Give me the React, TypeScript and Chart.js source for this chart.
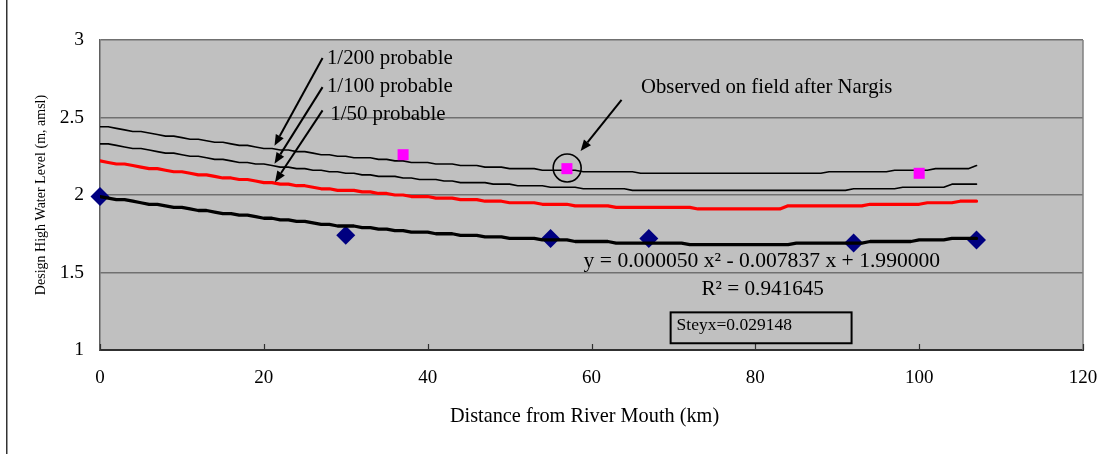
import React, { useEffect, useRef } from "react";
import { Chart, registerables } from "chart.js";

Chart.register(...registerables);

// Distance along the river (km), one station per kilometre
const KM = [
  0, 1, 2, 3, 4, 5, 6, 7, 8, 9, 10, 11, 12, 13, 14, 15, 16, 17, 18, 19,
  20, 21, 22, 23, 24, 25, 26, 27, 28, 29, 30, 31, 32, 33, 34, 35, 36, 37, 38, 39,
  40, 41, 42, 43, 44, 45, 46, 47, 48, 49, 50, 51, 52, 53, 54, 55, 56, 57, 58, 59,
  60, 61, 62, 63, 64, 65, 66, 67, 68, 69, 70, 71, 72, 73, 74, 75, 76, 77, 78, 79,
  80, 81, 82, 83, 84, 85, 86, 87, 88, 89, 90, 91, 92, 93, 94, 95, 96, 97, 98, 99,
  100, 101, 102, 103, 104, 105, 106, 107,
];

// Fitted observed-level curve (m, amsl)
const FIT_LEVEL = [
  1.99, 1.98, 1.97, 1.97, 1.96, 1.95, 1.94, 1.94, 1.93, 1.92,
  1.92, 1.91, 1.90, 1.90, 1.89, 1.88, 1.88, 1.87, 1.87, 1.86,
  1.85, 1.85, 1.84, 1.84, 1.83, 1.83, 1.82, 1.81, 1.81, 1.80,
  1.80, 1.80, 1.79, 1.79, 1.78, 1.78, 1.77, 1.77, 1.76, 1.76,
  1.76, 1.75, 1.75, 1.75, 1.74, 1.74, 1.74, 1.73, 1.73, 1.73,
  1.72, 1.72, 1.72, 1.72, 1.71, 1.71, 1.71, 1.71, 1.70, 1.70,
  1.70, 1.70, 1.70, 1.69, 1.69, 1.69, 1.69, 1.69, 1.69, 1.69,
  1.69, 1.69, 1.68, 1.68, 1.68, 1.68, 1.68, 1.68, 1.68, 1.68,
  1.68, 1.68, 1.68, 1.68, 1.68, 1.69, 1.69, 1.69, 1.69, 1.69,
  1.69, 1.69, 1.69, 1.69, 1.70, 1.70, 1.70, 1.70, 1.70, 1.70,
  1.71, 1.71, 1.71, 1.71, 1.72, 1.72, 1.72, 1.72,
];

// Design high water level, 1/200 probable
const LEVEL_200 = [
  2.44, 2.44, 2.43, 2.42, 2.41, 2.41, 2.40, 2.39, 2.38, 2.38,
  2.37, 2.36, 2.36, 2.35, 2.34, 2.34, 2.33, 2.32, 2.32, 2.31,
  2.30, 2.30, 2.29, 2.29, 2.28, 2.28, 2.27, 2.26, 2.26, 2.25,
  2.25, 2.24, 2.24, 2.24, 2.23, 2.23, 2.22, 2.22, 2.21, 2.21,
  2.21, 2.20, 2.20, 2.20, 2.19, 2.19, 2.19, 2.18, 2.18, 2.18,
  2.17, 2.17, 2.17, 2.17, 2.16, 2.16, 2.16, 2.16, 2.16, 2.15,
  2.15, 2.15, 2.15, 2.15, 2.15, 2.15, 2.14, 2.14, 2.14, 2.14,
  2.14, 2.14, 2.14, 2.14, 2.14, 2.14, 2.14, 2.14, 2.14, 2.14,
  2.14, 2.14, 2.14, 2.14, 2.14, 2.14, 2.14, 2.14, 2.14, 2.15,
  2.15, 2.15, 2.15, 2.15, 2.15, 2.15, 2.15, 2.16, 2.16, 2.16,
  2.16, 2.16, 2.17, 2.17, 2.17, 2.17, 2.17, 2.19,
];

// Design high water level, 1/100 probable
const LEVEL_100 = [
  2.33, 2.33, 2.32, 2.31, 2.30, 2.30, 2.29, 2.28, 2.27, 2.27,
  2.26, 2.25, 2.25, 2.24, 2.23, 2.23, 2.22, 2.21, 2.21, 2.20,
  2.20, 2.19, 2.18, 2.18, 2.17, 2.17, 2.16, 2.16, 2.15, 2.15,
  2.14, 2.14, 2.13, 2.13, 2.12, 2.12, 2.12, 2.11, 2.11, 2.10,
  2.10, 2.10, 2.09, 2.09, 2.08, 2.08, 2.08, 2.08, 2.07, 2.07,
  2.07, 2.06, 2.06, 2.06, 2.06, 2.05, 2.05, 2.05, 2.05, 2.04,
  2.04, 2.04, 2.04, 2.04, 2.04, 2.03, 2.03, 2.03, 2.03, 2.03,
  2.03, 2.03, 2.03, 2.03, 2.03, 2.03, 2.03, 2.03, 2.03, 2.03,
  2.03, 2.03, 2.03, 2.03, 2.03, 2.03, 2.03, 2.03, 2.03, 2.03,
  2.03, 2.03, 2.04, 2.04, 2.04, 2.04, 2.04, 2.04, 2.05, 2.05,
  2.05, 2.05, 2.05, 2.05, 2.07, 2.07, 2.07, 2.07,
];

// Design high water level, 1/50 probable
const LEVEL_50 = [
  2.22, 2.21, 2.20, 2.20, 2.19, 2.18, 2.17, 2.17, 2.16, 2.15,
  2.15, 2.14, 2.13, 2.13, 2.12, 2.11, 2.11, 2.10, 2.10, 2.09,
  2.08, 2.08, 2.07, 2.07, 2.06, 2.06, 2.05, 2.04, 2.04, 2.03,
  2.03, 2.03, 2.02, 2.02, 2.01, 2.01, 2.00, 2.00, 1.99, 1.99,
  1.99, 1.98, 1.98, 1.98, 1.97, 1.97, 1.97, 1.96, 1.96, 1.96,
  1.95, 1.95, 1.95, 1.95, 1.94, 1.94, 1.94, 1.94, 1.93, 1.93,
  1.93, 1.93, 1.93, 1.92, 1.92, 1.92, 1.92, 1.92, 1.92, 1.92,
  1.92, 1.92, 1.92, 1.91, 1.91, 1.91, 1.91, 1.91, 1.91, 1.91,
  1.91, 1.91, 1.91, 1.91, 1.93, 1.93, 1.93, 1.93, 1.93, 1.93,
  1.93, 1.93, 1.93, 1.93, 1.94, 1.94, 1.94, 1.94, 1.94, 1.94,
  1.94, 1.95, 1.95, 1.95, 1.95, 1.96, 1.96, 1.96,
];

// Gauged high water marks
const GAUGE_KM = [0, 30, 55, 67, 92, 107];
const GAUGE_LEVEL = [1.99, 1.74, 1.72, 1.72, 1.69, 1.71];

// Marks observed on field after Nargis
const NARGIS_KM = [37, 57, 100];
const NARGIS_LEVEL = [2.26, 2.17, 2.14];

const X_TICKS = [0, 20, 40, 60, 80, 100, 120];
const Y_TICKS = [1, 1.5, 2, 2.5, 3];

const FONT = "'Liberation Serif', 'Times New Roman', serif";

const pts = (xs: number[], ys: number[]) => xs.map((x, i) => ({ x, y: ys[i] }));

function arrow(ctx: CanvasRenderingContext2D, x1: number, y1: number, x2: number, y2: number) {
  const ang = Math.atan2(y2 - y1, x2 - x1);
  const len = 11;
  const half = 4.5;
  const bx = x2 - Math.cos(ang) * len;
  const by = y2 - Math.sin(ang) * len;
  ctx.beginPath();
  ctx.moveTo(x1, y1);
  ctx.lineTo(bx, by);
  ctx.stroke();
  ctx.beginPath();
  ctx.moveTo(x2, y2);
  ctx.lineTo(bx + Math.sin(ang) * half, by - Math.cos(ang) * half);
  ctx.lineTo(bx - Math.sin(ang) * half, by + Math.cos(ang) * half);
  ctx.closePath();
  ctx.fill();
}

const decorations = {
  id: "decorations",
  beforeDraw(chart: any) {
    const { ctx, chartArea: a } = chart;
    ctx.save();
    ctx.fillStyle = "#ffffff";
    ctx.fillRect(0, 0, chart.width, chart.height);
    ctx.fillStyle = "#c0c0c0";
    ctx.fillRect(a.left, a.top, a.right - a.left, a.bottom - a.top);
    ctx.strokeStyle = "#333333";
    ctx.lineWidth = 1.5;
    ctx.beginPath();
    ctx.moveTo(6.75, 0);
    ctx.lineTo(6.75, chart.height);
    ctx.stroke();
    ctx.restore();
  },
  beforeDatasetsDraw(chart: any) {
    const { ctx, chartArea: a, scales } = chart;
    ctx.save();
    // right edge of the plot area
    ctx.strokeStyle = "#808080";
    ctx.lineWidth = 1.5;
    ctx.beginPath();
    ctx.moveTo(a.right, a.top);
    ctx.lineTo(a.right, a.bottom);
    ctx.stroke();
    // inward tick marks on the distance axis
    ctx.strokeStyle = "#303030";
    ctx.lineWidth = 1.2;
    X_TICKS.forEach((t) => {
      const px = Math.round(scales.x.getPixelForValue(t)) + 0.5;
      ctx.beginPath();
      ctx.moveTo(px, a.bottom);
      ctx.lineTo(px, a.bottom - 6);
      ctx.stroke();
    });
    // distance axis title
    ctx.fillStyle = "#000";
    ctx.textAlign = "center";
    ctx.textBaseline = "middle";
    ctx.font = `20.3px ${FONT}`;
    ctx.fillText("Distance from River Mouth (km)", scales.x.getPixelForValue(59.15), 417);
    ctx.restore();
  },
  afterDatasetsDraw(chart: any) {
    const { ctx, scales } = chart;
    const X = (v: number) => scales.x.getPixelForValue(v);
    const Y = (v: number) => scales.y.getPixelForValue(v);
    ctx.save();
    ctx.fillStyle = "#000";
    ctx.strokeStyle = "#000";
    ctx.textBaseline = "middle";
    ctx.textAlign = "left";
    ctx.font = `20.9px ${FONT}`;
    ctx.fillText("1/200 probable", X(27.7), Y(2.879));
    ctx.fillText("1/100 probable", X(27.7), Y(2.697));
    ctx.fillText("1/50 probable", X(28.1), Y(2.52));
    ctx.font = `20.7px ${FONT}`;
    ctx.fillText("Observed on field after Nargis", X(66.05), Y(2.696));

    ctx.lineWidth = 2;
    arrow(ctx, X(27.17), Y(2.884), X(21.3), Y(2.318));
    arrow(ctx, X(27.17), Y(2.696), X(21.3), Y(2.202));
    arrow(ctx, X(27.17), Y(2.546), X(21.36), Y(2.083));
    arrow(ctx, X(63.67), Y(2.614), X(58.67), Y(2.284));

    ctx.lineWidth = 1.6;
    ctx.beginPath();
    ctx.arc(X(57.03), Y(2.174), 14, 0, Math.PI * 2);
    ctx.stroke();

    ctx.textAlign = "center";
    ctx.font = `21.6px ${FONT}`;
    ctx.fillText("y = 0.000050 x\u00B2 - 0.007837 x + 1.990000", X(80.8), Y(1.573));
    ctx.font = `21.2px ${FONT}`;
    ctx.fillText("R\u00B2 = 0.941645", X(80.9), Y(1.393));

    const bx1 = X(69.66), bx2 = X(91.75), by1 = Y(1.2428), by2 = Y(1.0435);
    ctx.lineWidth = 2;
    ctx.strokeRect(bx1, by1, bx2 - bx1, by2 - by1);
    ctx.textAlign = "left";
    ctx.font = `17.5px ${FONT}`;
    ctx.fillText("Steyx=0.029148", X(70.39), Y(1.161));
    ctx.restore();
  },
};

export default function App() {
  const ref = useRef<HTMLCanvasElement | null>(null);

  useEffect(() => {
    if (!ref.current) return;
    const lineDs = (label: string, ys: number[], color: string, width: number, order: number) => ({
      type: "line" as const,
      label,
      data: pts(KM, ys),
      borderColor: color,
      borderWidth: width,
      pointRadius: 0,
      tension: 0,
      fill: false,
      showLine: true,
      borderJoinStyle: "round" as const,
      borderCapStyle: "round" as const,
      order,
    });

    const chart = new Chart(ref.current, {
      type: "scatter",
      data: {
        datasets: [
          {
            label: "Observed on field after Nargis",
            data: pts(NARGIS_KM, NARGIS_LEVEL),
            pointStyle: "rect",
            pointRadius: 7.8,
            backgroundColor: "#ff00ff",
            borderWidth: 0,
            order: 0,
          },
          lineDs("Fitted curve", FIT_LEVEL, "#000000", 3.3, 1),
          {
            label: "Gauged high water",
            data: pts(GAUGE_KM, GAUGE_LEVEL),
            pointStyle: "rectRot",
            pointRadius: 9.5,
            backgroundColor: "#000080",
            borderWidth: 0,
            clip: false,
            order: 2,
          },
          lineDs("1/50 probable", LEVEL_50, "#ff0000", 3.2, 3),
          lineDs("1/100 probable", LEVEL_100, "#000000", 1.6, 4),
          lineDs("1/200 probable", LEVEL_200, "#000000", 1.6, 5),
        ] as any,
      },
      options: {
        responsive: false,
        animation: false,
        devicePixelRatio: 1,
        layout: { padding: { left: 0, right: 37, top: 40, bottom: 0 } },
        plugins: {
          legend: { display: false },
          tooltip: { enabled: false },
        },
        scales: {
          x: {
            type: "linear",
            min: 0,
            max: 120,
            afterFit: (s: any) => {
              s.height = 104;
            },
            afterBuildTicks: (s: any) => {
              s.ticks = X_TICKS.map((v) => ({ value: v }));
            },
            grid: { display: false, drawTicks: false },
            border: { display: true, color: "#303030", width: 2 },
            ticks: {
              color: "#000",
              padding: 17,
              font: { family: FONT, size: 19 },
              maxRotation: 0,
              callback: (v: any) => String(v),
            },
          },
          y: {
            type: "linear",
            min: 1,
            max: 3,
            afterFit: (s: any) => {
              s.width = 100;
            },
            afterBuildTicks: (s: any) => {
              s.ticks = Y_TICKS.map((v) => ({ value: v }));
            },
            grid: { color: "#707070", lineWidth: 1.5, drawTicks: false },
            border: { display: true, color: "#606060", width: 1.5 },
            ticks: {
              color: "#000",
              padding: 16,
              font: { family: FONT, size: 19.5 },
              callback: (v: any) => String(v),
            },
            title: {
              display: true,
              text: "Design High Water Level (m, amsl)",
              color: "#000",
              font: { family: FONT, size: 14 },
              padding: { top: 32.6, bottom: 0 },
            },
          },
        },
      },
      plugins: [decorations],
    });

    return () => chart.destroy();
  }, []);

  return (
    <div style={{ position: "fixed", left: 0, top: 0, width: 1120, height: 454, background: "#fff" }}>
      <canvas ref={ref} width={1120} height={454} style={{ display: "block" }} />
    </div>
  );
}
